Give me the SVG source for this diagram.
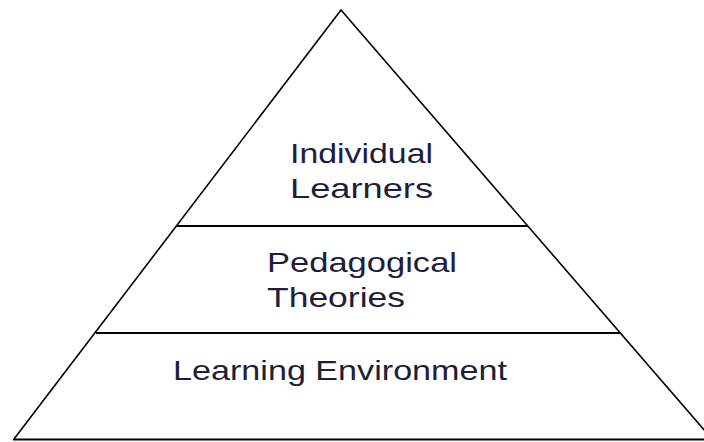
<svg xmlns="http://www.w3.org/2000/svg" width="704" height="442" viewBox="0 0 704 442">
<style>
.ln{stroke:#000;stroke-width:2;fill:none}
.dg{stroke:#000;stroke-width:1.6;fill:none}
.t{font-family:"Liberation Sans",Arial,sans-serif;font-size:28px;fill:#1e1e3c}
</style>
<rect width="704" height="442" fill="#fff"/>
<g id="connectors">
<polyline class="dg" points="14,439 341,10 712,439"/>
<line class="ln" x1="177" y1="226" x2="528" y2="226"/>
<line class="ln" x1="96" y1="333" x2="621" y2="333"/>
<line class="ln" x1="13" y1="439.5" x2="704" y2="439.5"/>
</g>
<g id="node-individual-learners">
<text class="t" x="290" y="163" textLength="143" lengthAdjust="spacingAndGlyphs">Individual</text>
<text class="t" x="290" y="198" textLength="143" lengthAdjust="spacingAndGlyphs">Learners</text>
</g>
<g id="node-pedagogical-theories">
<text class="t" x="267" y="272" textLength="190" lengthAdjust="spacingAndGlyphs">Pedagogical</text>
<text class="t" x="267" y="307" textLength="138" lengthAdjust="spacingAndGlyphs">Theories</text>
</g>
<g id="node-learning-environment">
<text class="t" x="173" y="380" textLength="334" lengthAdjust="spacingAndGlyphs">Learning Environment</text>
</g>
</svg>
